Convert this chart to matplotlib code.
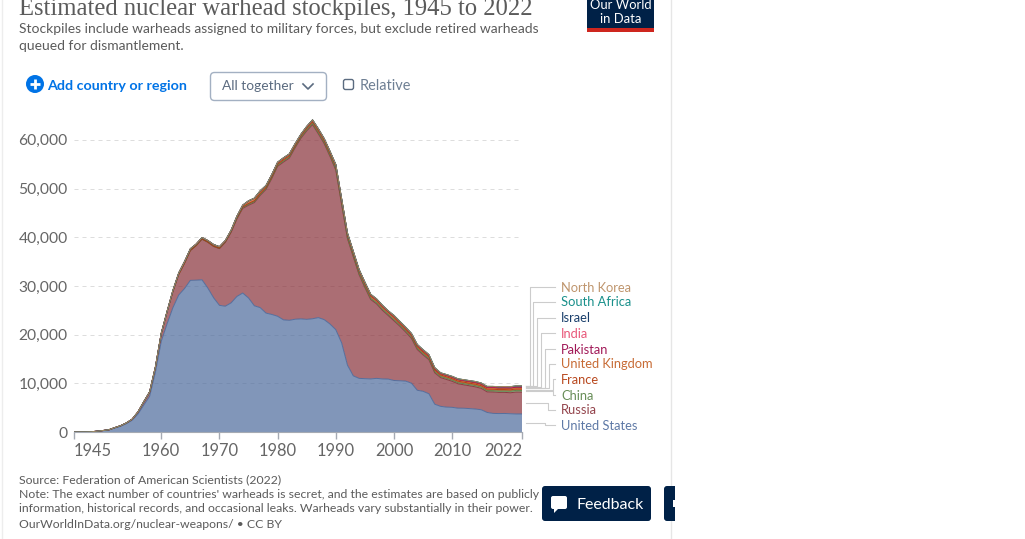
"""Estimated nuclear warhead stockpiles, stacked area in an OWID style card."""

import matplotlib
matplotlib.use("Agg")
import matplotlib.pyplot as plt
import numpy as np
from matplotlib.patches import Circle, FancyBboxPatch, Rectangle, Polygon

plt.rcParams["font.family"] = ["Lato", "DejaVu Sans"]

# -- Data ---------------------------------------------------------------------
years = list(range(1945, 2023))

united_states = [2, 9, 13, 50, 170,
    299, 438, 841, 1169, 1703, 2422, 3692, 5543, 7345, 12298,
    18638, 22229, 25540, 28133, 29463, 31139, 31175, 31255, 29561, 27552,
    26008, 25830, 26516, 27835, 28537, 27519, 25914, 25542, 24418, 24138,
    23764, 23031, 22937, 23154, 23228, 23135, 23254, 23490, 23077, 22174,
    21004, 18306, 13731, 11536, 11012, 10953, 10904, 11011, 10903, 10871,
    10577, 10526, 10457, 10027, 8570, 8360, 7853, 5709, 5273, 5113,
    5066, 4897, 4881, 4804, 4717, 4571, 4018, 3822, 3785, 3805,
    3750, 3708, 3708]
russia = [0, 0, 0, 0, 1,
    5, 25, 50, 120, 150, 200, 426, 660, 869, 1060,
    1605, 2471, 3322, 4238, 5221, 6129, 7089, 8339, 9399, 10538,
    11643, 13092, 14478, 15915, 17385, 19055, 21205, 23044, 25393, 27935,
    30800, 32400, 33300, 35200, 37100, 38700, 39870, 37730, 36140, 34430,
    32776, 28400, 26000, 24450, 21300, 18700, 16300, 15300, 14100, 13050,
    12250, 11200, 10060, 9200, 8370, 7480, 7000, 6450, 5900, 5690,
    5350, 5000, 4810, 4680, 4550, 4390, 4230, 4400, 4345, 4330,
    4310, 4490, 4477]
china = [0] * 19 + [1, 5, 20, 25, 35, 50,
    75, 100, 130, 150, 170, 185, 190, 190, 190, 190,
    205, 205, 205, 205, 215, 215, 224, 224, 224, 224,
    232, 232, 234, 234, 234, 234, 234, 232, 232, 232,
    232, 235, 235, 235, 235, 235, 235, 235, 240, 240,
    240, 240, 240, 240, 260, 260, 260, 270, 280, 290,
    320, 350, 350]
france = [0] * 15 + [4, 4, 4, 4, 4, 32, 32, 36, 36, 36,
    36, 45, 70, 116, 145, 188, 188, 212, 235, 235,
    250, 274, 274, 279, 280, 360, 355, 420, 415, 410,
    505, 540, 540, 525, 510, 500, 450, 450, 450, 450,
    470, 350, 350, 350, 350, 350, 350, 350, 300, 300,
    300, 300, 300, 300, 300, 300, 300, 300, 300, 290,
    290, 290, 290]
united_kingdom = [0] * 8 + [1, 5, 10, 15, 20, 22, 25,
    30, 50, 205, 280, 310, 310, 270, 270, 280, 308,
    280, 220, 220, 275, 325, 500, 500, 500, 350, 350,
    350, 350, 335, 320, 270, 300, 350, 350, 350, 350,
    350, 350, 300, 300, 250, 300, 300, 260, 260, 185,
    280, 280, 280, 280, 280, 280, 265, 265, 225, 225,
    225, 225, 225, 225, 225, 215, 215, 215, 215, 215,
    225, 225, 225]
pakistan = [0] * 53 + [3, 8,
    15, 20, 25, 30, 35, 40, 50, 60, 65, 70,
    80, 90, 100, 110, 120, 130, 140, 150, 150, 160,
    160, 165, 165]
india = [0] * 43 + [2, 4,
    6, 8, 10, 12, 14, 16, 18, 20, 22, 24,
    26, 30, 40, 50, 60, 70, 70, 75, 75, 80,
    80, 90, 100, 105, 110, 110, 120, 120, 130, 140,
    150, 156, 160]
israel = [0] * 22 + [2, 4, 6,
    8, 10, 12, 15, 20, 20, 25, 25, 30, 30,
    30, 35, 35, 40, 40, 40, 40, 45, 45, 50,
    50, 55, 55, 60, 60, 65, 70, 70, 75, 75,
    80, 80, 80, 80, 80, 80, 80, 80, 80, 80,
    80, 80, 80, 80, 80, 80, 80, 80, 80, 80,
    90, 90, 90]
south_africa = [0] * 35 + [1, 1, 2, 3, 3, 4, 5, 5, 6, 6, 6] + [0] * 32
north_korea = [0] * 61 + [2, 2, 4, 6,
    8, 10, 12, 12, 10, 10, 15, 20, 25, 30,
    20, 20, 20]

series = [united_states, russia, china, france, united_kingdom,
          pakistan, india, israel, south_africa, north_korea]
names = ["United States", "Russia", "China", "France", "United Kingdom",
         "Pakistan", "India", "Israel", "South Africa", "North Korea"]

y_ticks = [0, 10000, 20000, 30000, 40000, 50000, 60000]
x_ticks = [1945, 1960, 1970, 1980, 1990, 2000, 2010, 2022]

# -- Palette ------------------------------------------------------------------
C_NAVY = "#002147"
C_GREY = "#5b5b5b"
C_CTRL = "#5b6b80"
C_BLUE = "#0073e6"
colors = ["#4c6a9c", "#883039", "#578145", "#b13507", "#c15b1f",
          "#970046", "#e6456b", "#00295b", "#00847e", "#b88a5e"]

W, H = 1025, 539
fig = plt.figure(figsize=(W / 100, H / 100), dpi=100, facecolor="white")


def px(size):
    return size * 0.72


# -- Chart --------------------------------------------------------------------
left, right, base, scale = 74, 522, 432, 48.7 / 10000
y_max = 66000
top = base - y_max * scale
ax = fig.add_axes([left / W, 1 - base / H, (right - left) / W, (base - top) / H])
ax.set_xlim(1945, 2022)
ax.set_ylim(0, y_max)
ax.patch.set_alpha(0)
for s in ax.spines.values():
    s.set_visible(False)
ax.spines["bottom"].set_visible(True)
ax.spines["bottom"].set_color("#a5aab3")

ax.set_axisbelow(True)
ax.grid(axis="y", color="#dddddd", linestyle=(0, (4, 4)), lw=0.72)
ax.stackplot(years, series, colors=colors, alpha=0.7, linewidth=0)
cum = np.cumsum(np.array(series), axis=0)
for c, line in zip(colors, cum):
    ax.plot(years, line, color=c, lw=0.7, alpha=0.9, solid_joinstyle="round")

ax.set_yticks(y_ticks)
ax.set_yticklabels([f"{v:,}" for v in y_ticks], fontsize=px(15.6), color="#666666")
ax.tick_params(axis="y", length=0, pad=4.5)
ax.set_xticks(x_ticks)
ax.set_xticklabels(x_ticks, fontsize=px(16.5), color="#666666")
ax.tick_params(axis="x", length=5, width=1, color="#a5aab3", pad=3)
labels = ax.get_xticklabels()
labels[0].set_ha("left")
labels[-1].set_ha("right")

# -- Everything around the chart, in pixel coordinates ------------------------
ov = fig.add_axes([0, 0, 1, 1], zorder=5)
ov.set_xlim(0, W)
ov.set_ylim(H, 0)
ov.axis("off")
ov.patch.set_alpha(0)

# card edges
ov.plot([1.5, 1.5], [0, H], color="#ededed", lw=1)
ov.plot([671, 671], [0, H], color="#e6e6e6", lw=1)

# header
ov.text(19, 15, "Estimated nuclear warhead stockpiles, 1945 to 2022",
        family="Liberation Serif", fontsize=px(24.6), color="#5b5b5b", va="baseline")
ov.text(19, 29, "Stockpiles include warheads assigned to military forces, but exclude retired warheads",
        fontsize=px(13.9), color=C_GREY, va="center")
ov.text(19, 46, "queued for dismantlement.", fontsize=px(13.9), color=C_GREY, va="center")

# logo
ov.add_patch(Rectangle((587, 0), 67, 28, fc=C_NAVY, ec="none"))
ov.add_patch(Rectangle((587, 28), 67, 4, fc="#ce261e", ec="none"))
ov.text(620.5, 5, "Our World", color="white", fontsize=px(13), ha="center", va="center")
ov.text(620.5, 19, "in Data", color="white", fontsize=px(13), ha="center", va="center")

# controls
ov.add_patch(Circle((35, 84), 9, fc=C_BLUE, ec="none"))
ov.plot([30, 40], [84, 84], color="white", lw=2, solid_capstyle="butt")
ov.plot([35, 35], [79, 89], color="white", lw=2, solid_capstyle="butt")
ov.text(47, 86, "Add country or region", color=C_BLUE, fontsize=px(14.3),
        fontweight="bold", va="center")
ov.add_patch(FancyBboxPatch((210.5, 72.5), 116, 28, boxstyle="round,pad=0,rounding_size=4",
                            fc="white", ec="#a3b0c2", lw=1))
ov.text(222, 86, "All together", color=C_CTRL, fontsize=px(13.7), va="center")
ov.plot([303, 308, 313], [84, 89, 84], color=C_CTRL, lw=1.2)
ov.add_patch(FancyBboxPatch((343.5, 79.5), 10, 10, boxstyle="round,pad=0,rounding_size=2",
                            fc="white", ec="#5b6b80", lw=1))
ov.text(360, 85.5, "Relative", color="#6e7f93", fontsize=px(14.5), va="center")

# series labels with connectors
label_y = [425, 410, 395, 379, 364, 349, 333, 318, 302, 287]
elbow_x = [545, 548, 553, 553, 548.5, 545, 540.5, 537, 533, 529.5]
mids = cum - np.array(series) / 2
for i, name in enumerate(names):
    y0 = base - mids[i][-1] * scale
    ly = label_y[i]
    ov.plot([526, elbow_x[i], elbow_x[i], 555], [y0, y0, ly, ly], color="#cccccc", lw=0.8)
    ov.text(561, ly + 0.5, name, color=colors[i], alpha=0.9, fontsize=px(12.95), va="center")

# footer
ov.text(19, 480, "Source: Federation of American Scientists (2022)",
        fontsize=px(12.2), color=C_GREY, va="center")
ov.text(19, 495, "Note: The exact number of countries' warheads is secret, and the estimates are based on publicly available",
        fontsize=px(12.2), color=C_GREY, va="center")
ov.text(19, 509, "information, historical records, and occasional leaks. Warheads vary substantially in their power.",
        fontsize=px(12.2), color=C_GREY, va="center")
ov.text(19, 525, "OurWorldInData.org/nuclear-weapons/ • CC BY",
        fontsize=px(12.2), color=C_GREY, va="center")

# page widgets on top of the card: white strip, feedback and cut-off button
ov.add_patch(Rectangle((651, 480), 13, 50, fc="white", ec="none", zorder=6))
ov.add_patch(FancyBboxPatch((542, 486), 109, 35, boxstyle="round,pad=0,rounding_size=3",
                            fc=C_NAVY, ec="none", zorder=7))
ov.add_patch(FancyBboxPatch((551, 496), 16, 13, boxstyle="round,pad=0,rounding_size=2",
                            fc="white", ec="none", zorder=8))
ov.add_patch(Polygon([[554, 508], [554, 513], [559, 508]], fc="white", ec="none", zorder=8))
ov.text(577, 505, "Feedback", color="white", fontsize=px(16), va="center", zorder=8)
ov.add_patch(FancyBboxPatch((664, 486), 20, 35, boxstyle="round,pad=0,rounding_size=3",
                            fc=C_NAVY, ec="none", zorder=7))
ov.add_patch(Rectangle((673, 500), 2, 7, fc="white", ec="none", zorder=8))
ov.add_patch(Rectangle((675, 480), 350, 59, fc="white", ec="none", zorder=9))

fig.savefig("out.png", dpi=100, facecolor="white")
plt.close()
